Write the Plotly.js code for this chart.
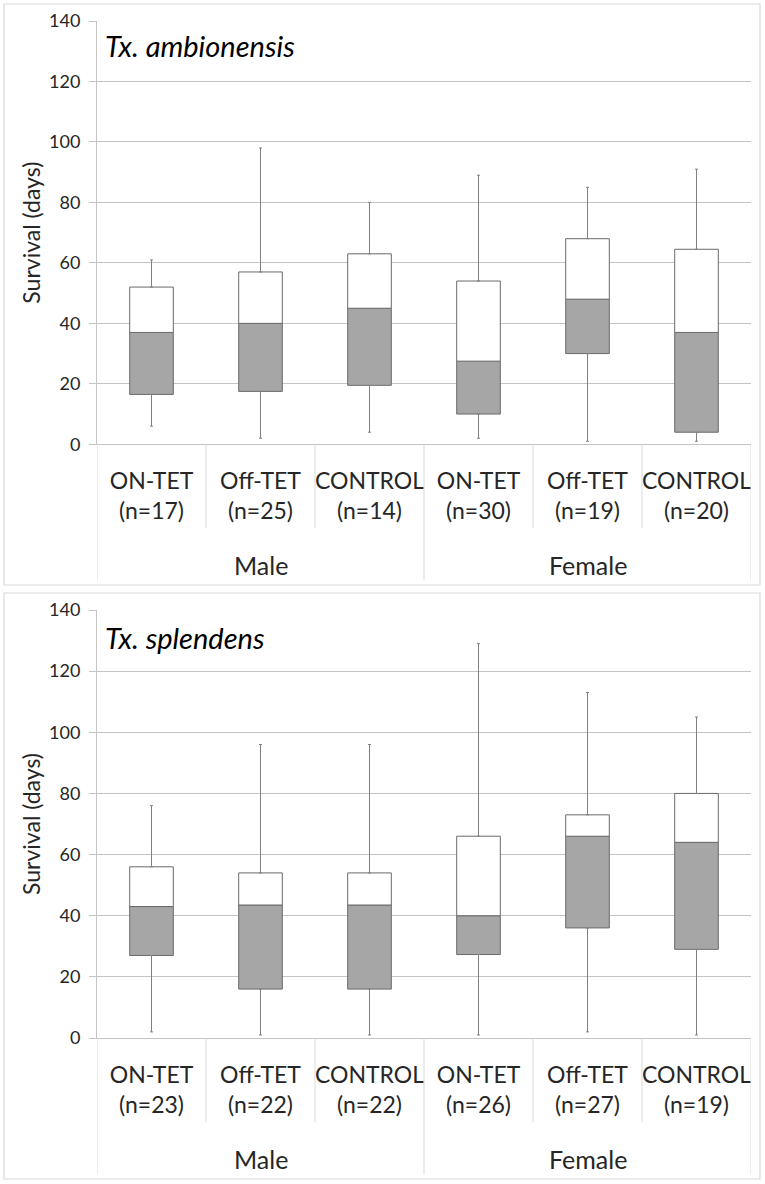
<!DOCTYPE html>
<html>
<head>
<meta charset="utf-8">
<script src="https://cdn.plot.ly/plotly-3.0.1.min.js"></script>
<style>
  html, body { margin: 0; padding: 0; background: #fff; }
  #chart { width: 765px; height: 1184px; }
</style>
</head>
<body>
<div id="chart"></div>
<script>
'use strict';

// categories shared by both panels
const categories = ['ON-TET', 'Off-TET', 'CONTROL', 'ON-TET', 'Off-TET', 'CONTROL'];
const sexes = ['Male', 'Male', 'Male', 'Female', 'Female', 'Female'];

// Tx. ambionensis
const ambN = [17, 25, 14, 30, 19, 20];
const ambMin = [6, 2, 4, 2, 1, 1];
const ambQ1 = [16.5, 17.5, 19.5, 10, 30, 4];
const ambMedian = [37, 40, 45, 27.5, 48, 37];
const ambQ3 = [52, 57, 63, 54, 68, 64.5];
const ambMax = [61, 98, 80, 89, 85, 91];

// Tx. splendens
const splN = [23, 22, 22, 26, 27, 19];
const splMin = [2, 1, 1, 1, 2, 1];
const splQ1 = [27, 16, 16, 27.3, 36, 29];
const splMedian = [43, 43.5, 43.5, 40, 66, 64];
const splQ3 = [56, 54, 54, 66, 73, 80];
const splMax = [76, 96, 96, 129, 113, 105];

const FONT = 'Lato, "Open Sans", sans-serif';
const TEXT = '#262626';
const GRID = '#c4c4c4';
const FRAME = '#d9d9d9';
const BOX_LINE = '#6a6a6a';

// page geometry (pixels) -> paper coordinates
const W = 765, H = 1184;
const M = {l: 97, r: 14, t: 21, b: 146};
const plotW = W - M.l - M.r;
const plotH = H - M.t - M.b;
const px = p => (p - M.l) / plotW;
const py = p => (H - M.b - p) / plotH;

const xIdx = categories.map((_, i) => i);

function diff(a, b) {
  return a.map((v, i) => v - b[i]);
}

function panelTraces(ax, n, min, q1, median, q3, max) {
  const xa = 'x' + ax, ya = 'y' + ax;
  const zeros = xIdx.map(() => 0);
  return [
    {
      type: 'bar', x: xIdx, y: diff(median, q1), base: q1,
      xaxis: xa, yaxis: ya, width: 0.4,
      marker: {color: '#a6a6a6', line: {color: BOX_LINE, width: 1}},
    },
    {
      type: 'bar', x: xIdx, y: diff(q3, median), base: median,
      xaxis: xa, yaxis: ya, width: 0.4,
      marker: {color: '#ffffff', line: {color: BOX_LINE, width: 1}},
    },
    {
      type: 'scatter', mode: 'markers', x: xIdx, y: q3,
      xaxis: xa, yaxis: ya,
      marker: {size: 1, color: 'rgba(0,0,0,0)'},
      error_y: {type: 'data', symmetric: false, array: diff(max, q3), arrayminus: zeros,
        color: '#808080', thickness: 1, width: 1.5},
    },
    {
      type: 'scatter', mode: 'markers', x: xIdx, y: q1,
      xaxis: xa, yaxis: ya,
      marker: {size: 1, color: 'rgba(0,0,0,0)'},
      error_y: {type: 'data', symmetric: false, array: zeros, arrayminus: diff(q1, min),
        color: '#808080', thickness: 1, width: 1.5},
    },
  ];
}

function xAxis(n, anchor) {
  return {
    anchor: anchor,
    domain: [0, 1],
    range: [-0.5, categories.length - 0.5],
    tickvals: xIdx,
    ticktext: categories.map((c, i) => c + '<br>(n=' + n[i] + ')'),
    tickfont: {family: FONT, size: 23, color: TEXT},
    ticklabelstandoff: 16,
    ticks: '',
    showgrid: false,
    zeroline: false,
    showline: true,
    linecolor: GRID,
    fixedrange: true,
  };
}

function yAxis(domain, anchor) {
  return {
    anchor: anchor,
    domain: domain,
    range: [0, 140],
    dtick: 20,
    tickfont: {family: FONT, size: 18, color: TEXT},
    ticklabelstandoff: 5,
    ticks: 'outside',
    ticklen: 7,
    tickcolor: GRID,
    gridcolor: GRID,
    showline: true,
    linecolor: GRID,
    zeroline: false,
    title: {text: 'Survival (days)', font: {family: FONT, size: 23, color: TEXT}, standoff: 2},
    fixedrange: true,
  };
}

// dividers of the category axis and group labels below it
function categoryDecor(ax, axisPx) {
  const shapes = [];
  const annotations = [];
  for (let b = 0; b <= categories.length; b++) {
    const isGroupEdge = b === 0 || b === categories.length || sexes[b] !== sexes[b - 1];
    shapes.push({
      type: 'line', xref: 'x' + ax, yref: 'paper',
      x0: b - 0.5, x1: b - 0.5,
      y0: py(axisPx), y1: py(axisPx + (isGroupEdge ? 136 : 84)),
      line: {color: FRAME, width: 1},
    });
  }
  const groups = [...new Set(sexes)];
  for (const g of groups) {
    const members = xIdx.filter(i => sexes[i] === g);
    annotations.push({
      xref: 'x' + ax, yref: 'paper',
      x: members.reduce((s, i) => s + i, 0) / members.length,
      y: py(axisPx + 121),
      text: g, showarrow: false,
      font: {family: FONT, size: 25, color: TEXT},
      xanchor: 'center', yanchor: 'middle',
    });
  }
  return {shapes, annotations};
}

function frame(top, bottom) {
  return {
    type: 'rect', xref: 'paper', yref: 'paper',
    x0: px(4), x1: px(760), y0: py(top), y1: py(bottom),
    line: {color: FRAME, width: 1.2},
  };
}

function panelTitle(text, centerPx) {
  return {
    xref: 'paper', yref: 'paper',
    x: px(103), y: py(centerPx),
    text: '<i>' + text + '</i>', showarrow: false,
    font: {family: FONT, size: 29, color: '#000'},
    xanchor: 'left', yanchor: 'middle',
  };
}

const AXIS1 = 444.3, AXIS2 = 1038.3;
const decor1 = categoryDecor('', AXIS1);
const decor2 = categoryDecor('2', AXIS2);

const data = [
  ...panelTraces('', ambN, ambMin, ambQ1, ambMedian, ambQ3, ambMax),
  ...panelTraces('2', splN, splMin, splQ1, splMedian, splQ3, splMax),
];

const layout = {
  width: W,
  height: H,
  margin: M,
  paper_bgcolor: '#fff',
  plot_bgcolor: '#fff',
  showlegend: false,
  hovermode: false,
  barmode: 'overlay',
  font: {family: FONT, color: TEXT},
  xaxis: xAxis(ambN, 'y'),
  yaxis: yAxis([py(AXIS1), py(21)], 'x'),
  xaxis2: xAxis(splN, 'y2'),
  yaxis2: yAxis([py(AXIS2), py(610)], 'x2'),
  shapes: [frame(4, 585), frame(593, 1179), ...decor1.shapes, ...decor2.shapes],
  annotations: [
    panelTitle('Tx. ambionensis', 45.7),
    panelTitle('Tx. splendens', 637),
    ...decor1.annotations,
    ...decor2.annotations,
  ],
};

Plotly.newPlot('chart', data, layout, {staticPlot: true});
</script>
</body>
</html>
